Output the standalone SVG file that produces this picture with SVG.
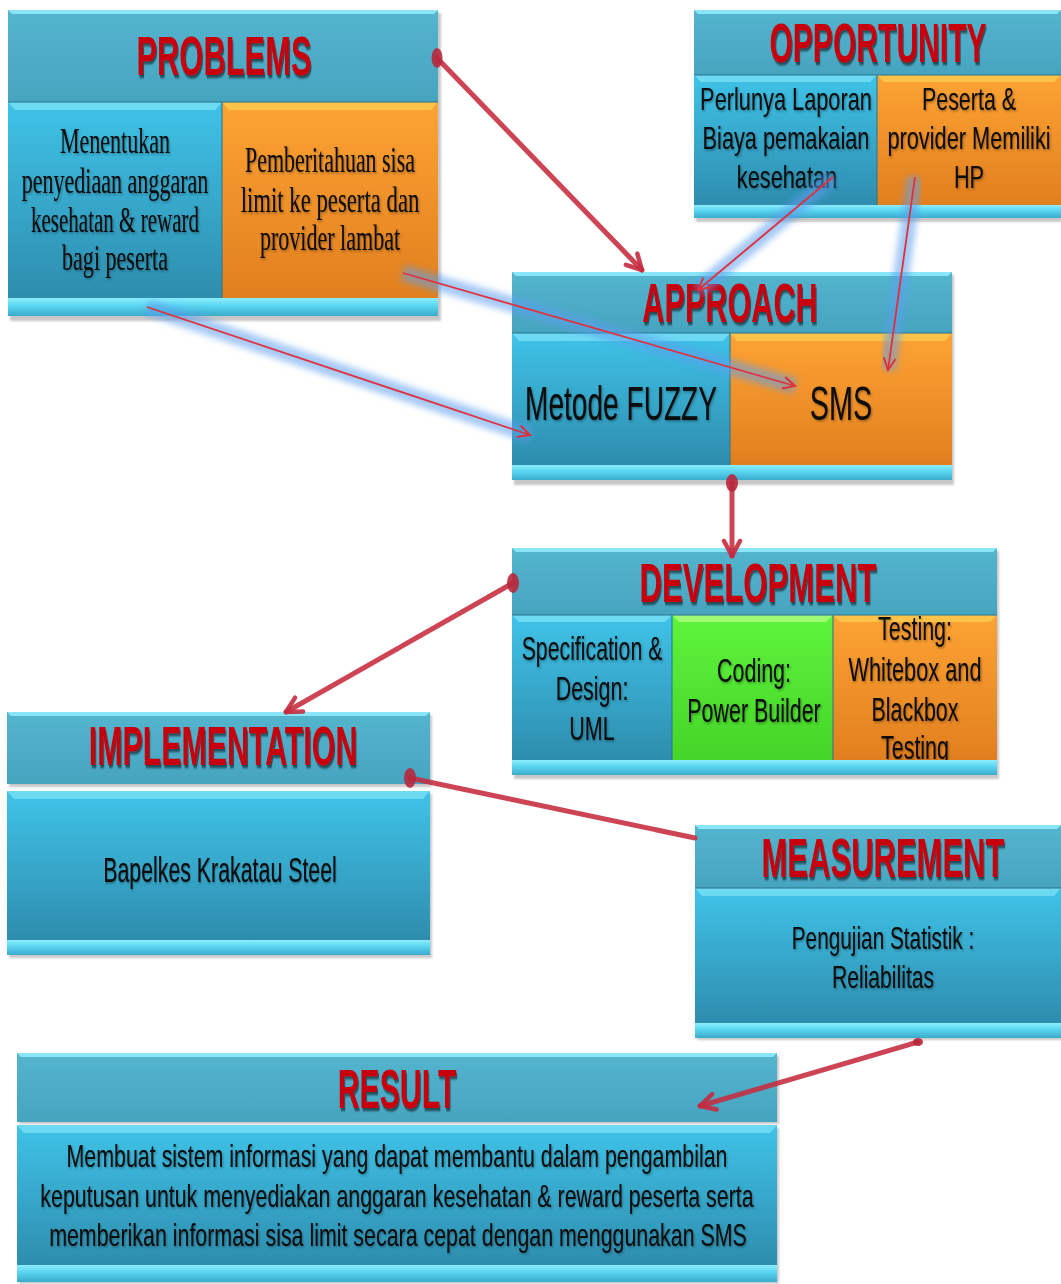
<svg xmlns="http://www.w3.org/2000/svg" width="1061" height="1284" viewBox="0 0 1061 1284">
  <defs>
    <linearGradient id="gHead" x1="0" y1="0" x2="0" y2="1">
      <stop offset="0" stop-color="#54B5CF"/>
      <stop offset="1" stop-color="#46A4BF"/>
    </linearGradient>
    <linearGradient id="gBlue" x1="0" y1="0" x2="0" y2="1">
      <stop offset="0" stop-color="#3FC3E8"/>
      <stop offset="1" stop-color="#2E8DAE"/>
    </linearGradient>
    <linearGradient id="gOrange" x1="0" y1="0" x2="0" y2="1">
      <stop offset="0" stop-color="#FDA334"/>
      <stop offset="1" stop-color="#E17F1E"/>
    </linearGradient>
    <linearGradient id="gGreen" x1="0" y1="0" x2="0" y2="1">
      <stop offset="0" stop-color="#5EF43C"/>
      <stop offset="1" stop-color="#45D428"/>
    </linearGradient>
    <linearGradient id="gBar" x1="0" y1="0" x2="0" y2="1">
      <stop offset="0" stop-color="#8EEDFC"/>
      <stop offset="0.4" stop-color="#5CD7F2"/>
      <stop offset="1" stop-color="#3AABCB"/>
    </linearGradient>
    <filter id="tsh" x="-10%" y="-30%" width="125%" height="170%">
      <feDropShadow dx="2" dy="3" stdDeviation="1.2" flood-color="#000" flood-opacity="0.55"/>
    </filter>
    <filter id="bsh" x="-10%" y="-30%" width="125%" height="170%">
      <feDropShadow dx="1" dy="1.5" stdDeviation="0.8" flood-color="#000" flood-opacity="0.35"/>
    </filter>
    <filter id="glow" x="-20%" y="-20%" width="140%" height="140%">
      <feGaussianBlur stdDeviation="3"/>
    </filter>
    <filter id="soft" x="-5%" y="-5%" width="110%" height="115%">
      <feGaussianBlur stdDeviation="1.2"/>
    </filter>
    <marker id="ahThick" viewBox="0 0 22 22" refX="19" refY="11" markerWidth="22" markerHeight="22" markerUnits="userSpaceOnUse" orient="auto">
      <path d="M4,3 L19,11 L4,19" fill="none" stroke="#C62A3E" stroke-width="4.5" stroke-linecap="round" stroke-linejoin="round" stroke-opacity="0.9"/>
    </marker>
    <marker id="ahThin" viewBox="0 0 16 16" refX="14" refY="8" markerWidth="16" markerHeight="16" markerUnits="userSpaceOnUse" orient="auto">
      <path d="M2,2 L14,8 L2,14" fill="none" stroke="#E0303C" stroke-width="2"/>
    </marker>
    <style>
      .sh { fill: #9a9a9a; opacity: 0.55; filter: url(#soft); }
      .hd { fill: url(#gHead); }
      .cb { fill: url(#gBlue); }
      .co { fill: url(#gOrange); }
      .cg { fill: url(#gGreen); }
      .bar { fill: url(#gBar); }
      .hlH { fill: #8AE6F7; }
      .hlB { fill: #72DDF5; opacity: 0.9; }
      .hlO { fill: #FCC64C; opacity: 0.9; }
      .hlG { fill: #A4FB78; opacity: 0.9; }
      .sep { stroke: #2A7690; stroke-width: 1.5; opacity: 0.7; }
      .title { font-family: "Liberation Sans", Arial, sans-serif; font-weight: bold; font-size: 56px; fill: #C8000C; text-anchor: middle; filter: url(#tsh); }
      .txt { font-family: "Liberation Sans", Arial, sans-serif; fill: #080808; text-anchor: middle; filter: url(#bsh); }
      .serif { font-family: "Liberation Serif", "Times New Roman", serif; font-size: 35px; }
      .thick { fill: none; stroke: #C62A3E; stroke-opacity: 0.88; stroke-width: 5; stroke-linecap: round; }
      .dot { fill: #B8283C; fill-opacity: 0.9; }
      .halo { fill: none; stroke: #5C9EEE; stroke-width: 16; stroke-opacity: 0.55; filter: url(#glow); }
      .thin { fill: none; stroke: #E0303C; stroke-width: 1.8; marker-end: url(#ahThin); }
    </style>
  </defs>

  <rect width="1061" height="1284" fill="#ffffff"/>

  <!-- PROBLEMS -->
  <g id="problems">
    <rect class="sh" x="10" y="13" width="431" height="308"/>
    <rect class="hd" x="8" y="10" width="430" height="92"/>
    <polygon class="hlH" points="8,10 438,10 434,14 12,14"/>
    <rect class="cb" x="8" y="102" width="214" height="196"/>
    <polygon class="hlB" points="8,102 222,102 215,110 15,110"/>
    <rect class="co" x="222" y="102" width="216" height="196"/>
    <polygon class="hlO" points="222,102 438,102 431,110 229,110"/>
    <line class="sep" x1="8" y1="102" x2="438" y2="102"/>
    <line class="sep" x1="222" y1="102" x2="222" y2="298"/>
    <text class="title" transform="translate(224,75) scale(0.552,1)">PROBLEMS</text>
    <g class="txt serif">
      <text transform="translate(115,153) scale(0.63,1)">Menentukan</text>
      <text transform="translate(115,193) scale(0.63,1)">penyediaan anggaran</text>
      <text transform="translate(115,232) scale(0.6,1)">kesehatan &amp; reward</text>
      <text transform="translate(115,270) scale(0.63,1)">bagi peserta</text>
      <text transform="translate(330,172) scale(0.627,1)">Pemberitahuan sisa</text>
      <text transform="translate(330,212) scale(0.65,1)">limit ke peserta dan</text>
      <text transform="translate(330,250) scale(0.63,1)">provider lambat</text>
    </g>
    <rect class="bar" x="8" y="298" width="430" height="18"/>
  </g>

  <!-- OPPORTUNITY -->
  <g id="opportunity">
    <rect class="sh" x="696" y="13" width="366" height="209"/>
    <rect class="hd" x="694" y="10" width="367" height="65"/>
    <polygon class="hlH" points="694,10 1061,10 1057,14 698,14"/>
    <rect class="cb" x="694" y="75" width="183" height="130"/>
    <polygon class="hlB" points="694,75 877,75 870,82 701,82"/>
    <rect class="co" x="877" y="75" width="184" height="130"/>
    <polygon class="hlO" points="877,75 1061,75 1054,82 884,82"/>
    <line class="sep" x1="694" y1="75" x2="1061" y2="75"/>
    <line class="sep" x1="877" y1="75" x2="877" y2="205"/>
    <text class="title" transform="translate(878,62) scale(0.537,1)">OPPORTUNITY</text>
    <g class="txt" font-size="32">
      <text transform="translate(786,110) scale(0.68,1)">Perlunya Laporan</text>
      <text transform="translate(786,149) scale(0.68,1)">Biaya pemakaian</text>
      <text transform="translate(787,188) scale(0.68,1)">kesehatan</text>
      <text transform="translate(969,110) scale(0.67,1)">Peserta &amp;</text>
      <text transform="translate(969,149) scale(0.68,1)">provider Memiliki</text>
      <text transform="translate(969,188) scale(0.68,1)">HP</text>
    </g>
    <rect class="bar" x="694" y="205" width="367" height="13"/>
  </g>

  <!-- APPROACH -->
  <g id="approach">
    <rect class="sh" x="514" y="275" width="440" height="210"/>
    <rect class="hd" x="512" y="272" width="440" height="61"/>
    <polygon class="hlH" points="512,272 952,272 948,276 516,276"/>
    <rect class="cb" x="512" y="333" width="218" height="132"/>
    <polygon class="hlB" points="512,333 730,333 723,341 519,341"/>
    <rect class="co" x="730" y="333" width="222" height="132"/>
    <polygon class="hlO" points="730,333 952,333 945,341 737,341"/>
    <line class="sep" x1="512" y1="333" x2="952" y2="333"/>
    <line class="sep" x1="730" y1="333" x2="730" y2="465"/>
    <text class="title" transform="translate(730,322) scale(0.547,1)">APPROACH</text>
    <g class="txt" font-size="48">
      <text transform="translate(621,420) scale(0.585,1)">Metode FUZZY</text>
      <text transform="translate(841,420) scale(0.6,1)">SMS</text>
    </g>
    <rect class="bar" x="512" y="465" width="440" height="15"/>
  </g>

  <!-- DEVELOPMENT -->
  <g id="development">
    <rect class="sh" x="514" y="551" width="485" height="228"/>
    <rect class="hd" x="512" y="548" width="485" height="67"/>
    <polygon class="hlH" points="512,548 997,548 993,552 516,552"/>
    <rect class="cb" x="512" y="615" width="160" height="145"/>
    <polygon class="hlB" points="512,615 672,615 665,622 519,622"/>
    <rect class="cg" x="672" y="615" width="161" height="145"/>
    <polygon class="hlG" points="672,615 833,615 826,622 679,622"/>
    <rect class="co" x="833" y="615" width="164" height="145"/>
    <polygon class="hlO" points="833,615 997,615 990,622 840,622"/>
    <line class="sep" x1="512" y1="615" x2="997" y2="615"/>
    <line class="sep" x1="672" y1="615" x2="672" y2="760"/>
    <line class="sep" x1="833" y1="615" x2="833" y2="760"/>
    <text class="title" transform="translate(758,602) scale(0.556,1)">DEVELOPMENT</text>
    <g class="txt" font-size="33">
      <text transform="translate(592,660) scale(0.645,1)">Specification &amp;</text>
      <text transform="translate(592,700) scale(0.65,1)">Design:</text>
      <text transform="translate(592,740) scale(0.65,1)">UML</text>
      <text transform="translate(754,682) scale(0.65,1)">Coding:</text>
      <text transform="translate(754,722) scale(0.65,1)">Power Builder</text>
      <text transform="translate(915,640) scale(0.65,1)">Testing:</text>
      <text transform="translate(915,681) scale(0.66,1)">Whitebox and</text>
      <text transform="translate(915,721) scale(0.65,1)">Blackbox</text>
      <text transform="translate(915,759) scale(0.65,1)">Testing</text>
    </g>
    <rect class="bar" x="512" y="760" width="485" height="15"/>
  </g>

  <!-- IMPLEMENTATION -->
  <g id="implementation">
    <rect class="sh" x="9" y="715" width="423" height="72"/>
    <rect class="hd" x="7" y="712" width="423" height="72"/>
    <polygon class="hlH" points="7,712 430,712 426,716 11,716"/>
    <text class="title" transform="translate(223,765) scale(0.542,1)">IMPLEMENTATION</text>
    <rect class="sh" x="9" y="794" width="423" height="164"/>
    <rect class="cb" x="7" y="791" width="423" height="149"/>
    <polygon class="hlB" points="7,791 430,791 423,799 14,799"/>
    <text class="txt" font-size="35" transform="translate(220,882) scale(0.61,1)">Bapelkes Krakatau Steel</text>
    <rect class="bar" x="7" y="940" width="423" height="15"/>
  </g>

  <!-- MEASUREMENT -->
  <g id="measurement">
    <rect class="sh" x="697" y="828" width="366" height="212"/>
    <rect class="hd" x="695" y="825" width="366" height="63"/>
    <polygon class="hlH" points="695,825 1061,825 1057,829 699,829"/>
    <rect class="cb" x="695" y="888" width="366" height="135"/>
    <polygon class="hlB" points="695,888 1061,888 1054,896 702,896"/>
    <line class="sep" x1="695" y1="888" x2="1061" y2="888"/>
    <text class="title" transform="translate(883,877) scale(0.554,1)">MEASUREMENT</text>
    <g class="txt" font-size="32">
      <text transform="translate(883,949) scale(0.65,1)">Pengujian Statistik :</text>
      <text transform="translate(883,988) scale(0.66,1)">Reliabilitas</text>
    </g>
    <rect class="bar" x="695" y="1023" width="366" height="15"/>
  </g>

  <!-- RESULT -->
  <g id="result">
    <rect class="sh" x="19" y="1056" width="760" height="68"/>
    <rect class="hd" x="17" y="1053" width="760" height="69"/>
    <polygon class="hlH" points="17,1053 777,1053 773,1057 21,1057"/>
    <text class="title" transform="translate(397,1108) scale(0.54,1)">RESULT</text>
    <rect class="sh" x="19" y="1128" width="760" height="156"/>
    <rect class="cb" x="17" y="1125" width="760" height="140"/>
    <polygon class="hlB" points="17,1125 777,1125 770,1133 24,1133"/>
    <g class="txt" font-size="31">
      <text transform="translate(397,1167) scale(0.69,1)">Membuat sistem informasi yang dapat membantu dalam pengambilan</text>
      <text transform="translate(397,1207) scale(0.69,1)">keputusan untuk menyediakan anggaran kesehatan &amp; reward peserta  serta</text>
      <text transform="translate(398,1246) scale(0.69,1)">memberikan informasi sisa limit secara cepat dengan menggunakan SMS</text>
    </g>
    <rect class="bar" x="17" y="1265" width="760" height="17"/>
  </g>

  <!-- connectors -->
  <g id="connectors">
    <!-- glowing thin links from problem/opportunity cells into approach cells -->
    <line class="halo" x1="147" y1="307" x2="530" y2="435"/>
    <line class="halo" x1="403" y1="273" x2="795" y2="386"/>
    <line class="halo" x1="833" y1="177" x2="698" y2="290"/>
    <line class="halo" x1="915" y1="177" x2="888" y2="370"/>
    <line class="thin" x1="147" y1="307" x2="530" y2="435"/>
    <line class="thin" x1="403" y1="273" x2="795" y2="386"/>
    <line class="thin" x1="833" y1="177" x2="698" y2="290"/>
    <line class="thin" x1="915" y1="177" x2="888" y2="370"/>

    <!-- main flow -->
    <line class="thick" x1="437" y1="58" x2="642" y2="270" marker-end="url(#ahThick)"/>
    <ellipse class="dot" cx="437" cy="58" rx="5.5" ry="10"/>
    <line class="thick" x1="732" y1="483" x2="732" y2="556" stroke-width="3.5" marker-end="url(#ahThick)"/>
    <ellipse class="dot" cx="732" cy="483" rx="6" ry="9"/>
    <line class="thick" x1="513" y1="583" x2="286" y2="712" marker-end="url(#ahThick)"/>
    <ellipse class="dot" cx="513" cy="583" rx="6" ry="10"/>
    <line class="thick" x1="410" y1="778" x2="695" y2="838"/>
    <ellipse class="dot" cx="410" cy="778" rx="6" ry="10"/>
    <line class="thick" x1="918" y1="1042" x2="700" y2="1106" marker-end="url(#ahThick)"/>
    <ellipse class="dot" cx="918" cy="1042" rx="5" ry="4"/>
  </g>
</svg>
